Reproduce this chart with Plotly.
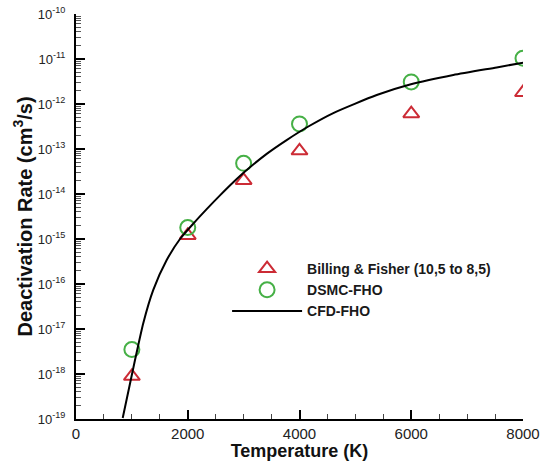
import plotly.graph_objects as go

# ---- data ----
temps = [1000, 2000, 3000, 4000, 6000, 8000]
billing_fisher = [8.9e-19, 1.2e-15, 2.0e-14, 9.1e-14, 6.1e-13, 1.8e-12]
dsmc_fho = [3.5e-18, 1.8e-15, 4.8e-14, 3.6e-13, 3.1e-12, 1.04e-11]

cfd_T = [836, 1056, 1204, 1383, 1623, 1861, 2100, 2339, 2577, 2815, 3055,
         3413, 3770, 4158, 4605, 5382, 5978, 6753, 7529, 8005]
cfd_rate = [1.05e-19, 2.04e-18, 1.35e-17, 7.4e-17, 3.4e-16, 1.0e-15, 2.2e-15,
            4.6e-15, 9.3e-15, 1.82e-14, 3.4e-14, 7.8e-14, 1.58e-13, 3.16e-13,
            6.3e-13, 1.58e-12, 2.7e-12, 4.4e-12, 6.5e-12, 8.3e-12]

y_tickvals = [1e-19, 1e-18, 1e-17, 1e-16, 1e-15, 1e-14, 1e-13, 1e-12, 1e-11, 1e-10]
y_ticktext = ["10<sup>-19</sup>", "10<sup>-18</sup>", "10<sup>-17</sup>", "10<sup>-16</sup>",
              "10<sup>-15</sup>", "10<sup>-14</sup>", "10<sup>-13</sup>", "10<sup>-12</sup>",
              "10<sup>-11</sup>", "10<sup>-10</sup>"]
x_tickvals = [0, 2000, 4000, 6000, 8000]
x_ticktext = ["0", "2000", "4000", "6000", "8000"]

FONT = "Liberation Sans, Arial, Helvetica, sans-serif"

fig = go.Figure()
fig.add_trace(go.Scatter(
    x=temps, y=billing_fisher, mode="markers",
    name="<b>Billing & Fisher (10,5 to 8,5)</b>",
    marker=dict(symbol="triangle-up-open", size=14, color="#cc2b35",
                line=dict(width=2, color="#cc2b35")),
))
fig.add_trace(go.Scatter(
    x=temps, y=dsmc_fho, mode="markers",
    name="<b>DSMC-FHO</b>",
    marker=dict(symbol="circle-open", size=15, color="#46b046",
                line=dict(width=2, color="#46b046")),
))
fig.add_trace(go.Scatter(
    x=cfd_T, y=cfd_rate, mode="lines",
    name="<b>CFD-FHO</b>",
    line=dict(color="black", width=2, shape="spline", smoothing=0.6),
))

fig.update_layout(
    width=547, height=461,
    margin=dict(l=76, r=24, t=14, b=42),
    paper_bgcolor="white", plot_bgcolor="white",
    font=dict(family=FONT, color="#1a1a1a"),
    legend=dict(
        x=0.338, y=0.41, xanchor="left", yanchor="top",
        font=dict(size=14, family=FONT, color="#1a1a1a"),
        bgcolor="rgba(0,0,0,0)", itemwidth=70, tracegroupgap=0,
    ),
    showlegend=True,
)

fig.update_xaxes(
    range=[0, 8000], showgrid=False, zeroline=False, automargin=False,
    showline=True, linecolor="black", linewidth=2, mirror=False,
    ticks="inside", ticklen=9, tickwidth=2, tickcolor="black",
    tickvals=x_tickvals, ticktext=x_ticktext, ticklabeloverflow="allow",
    tickfont=dict(size=15, family=FONT, color="#222"),
    minor=dict(ticks="inside", ticklen=5, tickwidth=1, tickcolor="#444", dtick=500, showgrid=False),
    title=dict(text="<b>Temperature (K)</b>", font=dict(size=18, family=FONT, color="#111"), standoff=0),
)
fig.update_yaxes(
    type="log", range=[-19, -10], showgrid=False, zeroline=False, automargin=False,
    showline=True, linecolor="black", linewidth=2, mirror=False,
    ticks="inside", ticklen=9, tickwidth=2, tickcolor="black",
    tickvals=y_tickvals, ticktext=y_ticktext, ticklabeloverflow="allow",
    tickfont=dict(size=13, family=FONT, color="#222"),
    ticklabelstandoff=6,
    minor=dict(ticks="inside", ticklen=5, tickwidth=1, tickcolor="#555", dtick="D1", showgrid=False),
    title=dict(text="<b>Deactivation Rate (cm<sup>3</sup>/s)</b>", font=dict(size=20, family=FONT, color="#111"), standoff=0),
)

# remove the browser's default 8px body margin so the figure sits at the page origin
fig.write_html("out.html", config={"displayModeBar": False},
               post_script="document.body.style.margin='0';")
